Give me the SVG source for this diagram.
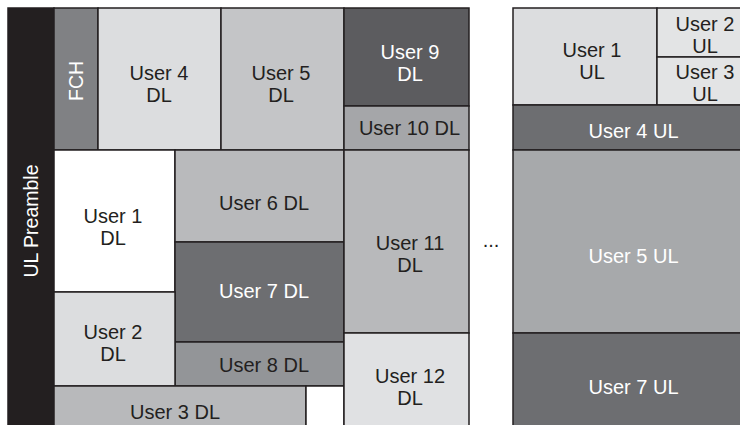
<svg xmlns="http://www.w3.org/2000/svg" width="740" height="425" viewBox="0 0 740 425">
<style>
rect{stroke:#231f20;stroke-width:1.5}
text{font-family:"Liberation Sans",Arial,sans-serif;font-size:20px;text-anchor:middle;fill:#231f20}
.w{fill:#ffffff}
.v{font-size:19.5px}
</style>
<rect x="0" y="0" width="740" height="425" fill="#ffffff" style="stroke:none"/>
<g id="ul-preamble"><rect x="8" y="8" width="46" height="425" fill="#231f20"/><text class="w v" transform="translate(38,221) rotate(-90)">UL Preamble</text></g>
<g id="fch"><rect x="54" y="8" width="44" height="142" fill="#808184"/><text class="w v" transform="translate(83,81) rotate(-90)">FCH</text></g>
<g id="user4-dl"><rect x="98" y="8" width="123" height="142" fill="#dcdddf"/><text x="159" y="80">User 4</text><text x="159" y="102.4">DL</text></g>
<g id="user5-dl"><rect x="221" y="8" width="123" height="142" fill="#c4c5c7"/><text x="281" y="80">User 5</text><text x="281" y="102.4">DL</text></g>
<g id="user9-dl"><rect x="344" y="8" width="125" height="98" fill="#5c5c5f"/><text class="w" x="410" y="59">User 9</text><text class="w" x="410" y="81.4">DL</text></g>
<g id="user10-dl"><rect x="344" y="106" width="125" height="44" fill="#a5a6a9"/><text x="409.5" y="135">User 10 DL</text></g>
<g id="user1-dl"><rect x="54" y="150" width="121" height="142" fill="#ffffff"/><text x="113" y="223">User 1</text><text x="113" y="245.4">DL</text></g>
<g id="user6-dl"><rect x="175" y="150" width="169" height="92" fill="#b9babc"/><text x="264" y="210">User 6 DL</text></g>
<g id="user7-dl"><rect x="175" y="242" width="169" height="100" fill="#6d6e71"/><text class="w" x="264" y="298">User 7 DL</text></g>
<g id="user8-dl"><rect x="175" y="342" width="169" height="44" fill="#939598"/><text x="264" y="372">User 8 DL</text></g>
<g id="user2-dl"><rect x="54" y="292" width="121" height="94" fill="#dcdddf"/><text x="113" y="338.5">User 2</text><text x="113" y="360.9">DL</text></g>
<g id="user3-dl"><rect x="54" y="386" width="252" height="50" fill="#b8b9bb"/><text x="175" y="419">User 3 DL</text></g>
<g id="gap"><rect x="306" y="386" width="38" height="50" fill="#ffffff"/></g>
<g id="user11-dl"><rect x="344" y="150" width="125" height="183" fill="#b8b9bb"/><text x="410" y="249.5">User 11</text><text x="410" y="271.9">DL</text></g>
<g id="user12-dl"><rect x="344" y="333" width="125" height="103" fill="#e0e1e3"/><text x="410" y="383">User 12</text><text x="410" y="405.4">DL</text></g>
<text x="491" y="247">...</text>
<g id="user1-ul"><rect x="513" y="8" width="144" height="97" fill="#dcdddf"/><text x="592" y="56.5">User 1</text><text x="592" y="78.9">UL</text></g>
<g id="user2-ul"><rect x="657" y="8" width="96" height="49" fill="#e3e4e5"/><text x="705" y="31">User 2</text><text x="705" y="53.4">UL</text></g>
<g id="user3-ul"><rect x="657" y="57" width="96" height="48" fill="#e3e4e5"/><text x="705" y="79">User 3</text><text x="705" y="101.4">UL</text></g>
<g id="user4-ul"><rect x="513" y="105" width="240" height="45" fill="#6d6e71"/><text class="w" x="633.5" y="138">User 4 UL</text></g>
<g id="user5-ul"><rect x="513" y="150" width="240" height="183" fill="#a7a9ab"/><text class="w" x="633.5" y="263">User 5 UL</text></g>
<g id="user7-ul"><rect x="513" y="333" width="240" height="103" fill="#6d6e71"/><text class="w" x="633.5" y="394">User 7 UL</text></g>
<g id="connectors"/>
</svg>
